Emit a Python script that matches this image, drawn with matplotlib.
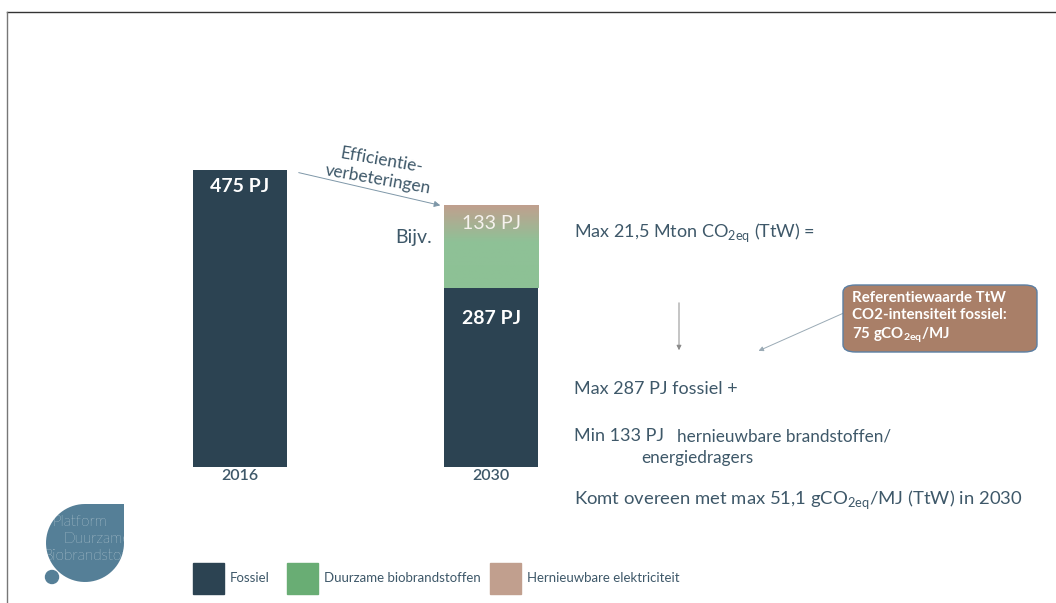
import numpy as np
import matplotlib
matplotlib.use("Agg")
from matplotlib import pyplot as plt
from matplotlib.patches import Rectangle, FancyBboxPatch, Circle, FancyArrowPatch, PathPatch
from matplotlib.path import Path
from matplotlib.colors import LinearSegmentedColormap

plt.rcParams['font.family'] = ['Lato', 'DejaVu Sans']

# data
years = ['2016', '2030']
fossiel = [475, 287]
hernieuwbaar = [0, 133]
labels = ['Fossiel', 'Duurzame biobrandstoffen', 'Hernieuwbare elektriciteit']

c_fossiel = '#2c4352'
c_bio = '#69ad74'
c_elek = '#c19f8e'
c_text = '#3e5869'

W, H = 1056, 603
fig = plt.figure(figsize=(W / 100, H / 100), dpi=100)


def px(x, y):
    return x / W, 1 - y / H


# bar axes
ax = fig.add_axes([140 / W, 136 / H, 450 / W, 337 / H])
x = np.arange(len(years))
bw = 0.375
b1 = ax.bar(x, fossiel, width=bw, color=c_fossiel)
b2 = ax.bar(x, hernieuwbaar, width=bw, bottom=fossiel, color='none')

# gradient fill for the renewable segment (electricity on top fading into bio)
grad = LinearSegmentedColormap.from_list('g', [(0, c_elek), (0.45, '#8fc197'), (1, '#8dc195')])
p = b2[1]
img = ax.imshow(np.linspace(0, 1, 100).reshape(-1, 1), cmap=grad, aspect='auto',
                extent=[p.get_x(), p.get_x() + p.get_width(), p.get_y(), p.get_y() + p.get_height()],
                origin='upper', zorder=2)
img.set_clip_path(p)
ax.set_xlim(-0.398, 1.394)
ax.set_ylim(0, 539.2)
ax.axis('off')

for i, yr in enumerate(years):
    ax.text(x[i], -14, yr, ha='center', va='center', fontsize=11.5, color=c_text, fontweight='semibold')

ax.text(x[0], fossiel[0] - 26, f'{fossiel[0]} PJ', ha='center', va='center', fontsize=14,
        color='white', fontweight='bold')
ax.text(x[1], fossiel[1] - 50, f'{fossiel[1]} PJ', ha='center', va='center', fontsize=14,
        color='white', fontweight='bold')
ax.text(x[1], fossiel[1] + hernieuwbaar[1] - 30, f'{hernieuwbaar[1]} PJ', ha='center', va='center',
        fontsize=14, color='#f6f2ee')

# annotations
fig.text(*px(414, 238), 'Bijv.', ha='center', va='center', fontsize=14, color=c_text)
fig.text(*px(380, 170), 'Efficientie-\nverbeteringen', ha='center', va='center', fontsize=12.5,
         color=c_text, rotation=-10, linespacing=1.2)
fig.patches.append(FancyArrowPatch(px(296, 172), px(443, 206), transform=fig.transFigure,
                                   arrowstyle='-|>', mutation_scale=9, color='#7e97a8', lw=0.7))
fig.patches.append(FancyArrowPatch(px(679, 300), px(679, 353), transform=fig.transFigure,
                                   arrowstyle='-|>', mutation_scale=7, color='#8a8a8a', lw=0.7))
fig.patches.append(FancyArrowPatch(px(846, 312), px(756, 352), transform=fig.transFigure,
                                   arrowstyle='-|>', mutation_scale=7, color='#9aaab5', lw=0.7))

fs = 13
fig.text(*px(574, 233), r'Max 21,5 Mton CO$_{\mathregular{2eq}}$ (TtW) =', ha='left', va='center',
         fontsize=fs, color=c_text)
fig.text(*px(574, 389), 'Max 287 PJ fossiel +', ha='left', va='center', fontsize=fs, color=c_text)
fig.text(*px(574, 436), 'Min 133 PJ', ha='left', va='center', fontsize=fs, color=c_text)
fig.text(*px(677, 437), 'hernieuwbare brandstoffen/', ha='left', va='center', fontsize=12.3, color=c_text)
fig.text(*px(641, 458), 'energiedragers', ha='left', va='center', fontsize=12.3, color=c_text)
fig.text(*px(574, 500), r'Komt overeen met max 51,1 gCO$_{\mathregular{2eq}}$/MJ (TtW) in 2030', ha='left',
         va='center', fontsize=13.3, color=c_text)

# callout box
x0, y0 = px(843, 352)
x1, y1 = px(1037, 285)
box = FancyBboxPatch((x0, y0), x1 - x0, y1 - y0, boxstyle='round,pad=0,rounding_size=0.012',
                     transform=fig.transFigure, facecolor='#a97f68', edgecolor='#5b7fa3', lw=1.0)
fig.patches.append(box)
fig.text(*px(852, 318), 'Referentiewaarde TtW\nCO2-intensiteit fossiel:\n'
         r'75 gCO$_{\mathregular{2eq}}$/MJ', ha='left', va='center', fontsize=10.8, color='white',
         fontweight='bold', linespacing=1.25)

# overlay axes in pixel coords (y down) for logo, frame and legend
ov = fig.add_axes([0, 0, 1, 1], zorder=-1)
ov.set_xlim(0, W)
ov.set_ylim(H, 0)
ov.axis('off')

# logo: drop shape (3/4 circle with square top-right corner)
cx, cy, r = 85, 543, 39
pts = [(cx + r * np.cos(a), cy + r * np.sin(a)) for a in np.radians(np.linspace(0, 270, 60))]
pts += [(cx + r, cy - r), (cx + r, cy)]
shape = PathPatch(Path(pts), facecolor='#557f97', edgecolor='none')
ov.add_patch(shape)
ov.add_patch(Circle((52, 577), 6.5, color='#557f97'))
for tx, ty, s in [(52, 522, 'Platform'), (63, 539, 'Duurzame'), (43, 556, 'Biobrandstoffen')]:
    t = ov.text(tx, ty, s, ha='left', va='center', fontsize=11, color='white', fontweight='light')
    t.set_clip_path(shape)

# frame
ov.plot([7, W], [12, 12], color='#333333', lw=1.0)
ov.plot([7, 7], [12, H], color='#777777', lw=1.0)

# legend
for lx, c, lab in [(193, c_fossiel, labels[0]), (287, c_bio, labels[1]), (490, c_elek, labels[2])]:
    ov.add_patch(Rectangle((lx, 563), 31, 31, color=c))
    ov.text(lx + 37, 578, lab, ha='left', va='center', fontsize=9.5, color=c_text)

fig.savefig('out.png', dpi=100)
